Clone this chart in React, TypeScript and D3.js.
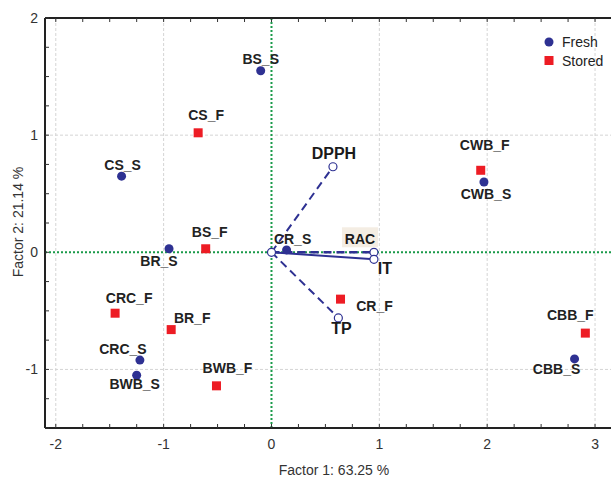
import React from "react";
import * as d3 from "d3";

// sample scores on factor 1 / factor 2
const sampleNames = [
  "BS_S", "CS_F", "CS_S", "BR_S", "BS_F", "CRC_F", "BR_F", "CRC_S",
  "BWB_S", "BWB_F", "CR_S", "CR_F", "CWB_F", "CWB_S", "CBB_F", "CBB_S",
];
const factor1 = [
  -0.1, -0.68, -1.39, -0.95, -0.61, -1.45, -0.93, -1.22,
  -1.25, -0.51, 0.14, 0.64, 1.94, 1.97, 2.91, 2.81,
];
const factor2 = [
  1.55, 1.02, 0.65, 0.03, 0.03, -0.52, -0.66, -0.92,
  -1.05, -1.14, 0.02, -0.4, 0.7, 0.6, -0.69, -0.91,
];
const groups = [
  "Fresh", "Stored", "Fresh", "Fresh", "Stored", "Stored", "Stored", "Fresh",
  "Fresh", "Stored", "Fresh", "Stored", "Stored", "Fresh", "Stored", "Fresh",
];

// variable loadings
const varNames = ["DPPH", "RAC", "IT", "TP"];
const varF1 = [0.57, 0.95, 0.95, 0.62];
const varF2 = [0.73, 0.0, -0.06, -0.56];

const xTicks = [-2, -1, 0, 1, 2, 3];
const yTicks = [-1, 0, 1, 2];
const legendItems = ["Fresh", "Stored"];

// label offsets in px (dx = centre, dy = baseline)
const labelOffset: Record<string, [number, number]> = {
  BS_S: [0, -7], CS_F: [8, -13], CS_S: [1, -6], BR_S: [-10, 17],
  BS_F: [4, -12], CRC_F: [14, -10], BR_F: [21, -7], CRC_S: [-17, -6],
  BWB_S: [-2, 14], BWB_F: [11, -13], CR_S: [6, -6], CR_F: [34, 12],
  CWB_F: [4, -20], CWB_S: [2, 17], CBB_F: [-15, -13], CBB_S: [-18, 15],
  DPPH: [1, -8], RAC: [-14, -8], IT: [11, 15], TP: [3, 16],
};

const W = 611;
const H = 478;
const BLUE = "#2e3192";
const RED = "#ed1c24";
const GREEN = "#1a9a4a";
const FONT = "'Liberation Sans', Arial, sans-serif";

export default function App() {
  const x = d3.scaleLinear().domain([-2.1, 3.25]).range([45, 622]);
  const y = d3.scaleLinear().domain([-1.5, 2]).range([428, 18]);

  const minorX = d3.range(-2, 3.26, 0.25);
  const minorY = d3.range(-1.5, 2.01, 0.25);
  const sq = 9;

  return (
    <svg
      width={W}
      height={H}
      style={{ position: "absolute", left: 0, top: 0, background: "#fff" }}
      fontFamily={FONT}
    >
      {/* grid */}
      {xTicks.filter(t => t !== 0).map(t => (
        <line key={"gx" + t} x1={x(t)} x2={x(t)} y1={y(2)} y2={y(-1.5)}
          stroke="#d4d4d4" strokeDasharray="3,2" />
      ))}
      {yTicks.filter(t => t !== 0 && t !== 2).map(t => (
        <line key={"gy" + t} x1={x(-2.1)} x2={x(3.25)} y1={y(t)} y2={y(t)}
          stroke="#d4d4d4" strokeDasharray="3,2" />
      ))}
      {/* zero lines */}
      <line x1={x(0)} x2={x(0)} y1={y(2)} y2={y(-1.5)} stroke={GREEN}
        strokeWidth={2} strokeDasharray="2,2" />
      <line x1={x(-2.1)} x2={x(3.25)} y1={y(0)} y2={y(0)} stroke={GREEN}
        strokeWidth={2} strokeDasharray="2,2" />

      {/* axes frame */}
      <line x1={x(-2.1)} x2={x(3.25)} y1={y(2)} y2={y(2)} stroke="#222" strokeWidth={2} />
      <line x1={x(-2.1)} x2={x(3.25)} y1={y(-1.5)} y2={y(-1.5)} stroke="#222" strokeWidth={2} />
      <line x1={x(-2.1)} x2={x(-2.1)} y1={y(2)} y2={y(-1.5)} stroke="#222" strokeWidth={2} />
      {minorX.map(t => (
        <g key={"tx" + t}>
          <line x1={x(t)} x2={x(t)} y1={y(-1.5)} y2={y(-1.5) - 4} stroke="#333" />
          <line x1={x(t)} x2={x(t)} y1={y(2)} y2={y(2) + 4} stroke="#333" />
        </g>
      ))}
      {minorY.map(t => (
        <line key={"ty" + t} x1={x(-2.1)} x2={x(-2.1) + 4} y1={y(t)} y2={y(t)} stroke="#333" />
      ))}
      {xTicks.map(t => (
        <text key={"lx" + t} x={x(t)} y={449} textAnchor="middle" fontSize={14} fill="#333">
          {t}
        </text>
      ))}
      {yTicks.map(t => (
        <text key={"ly" + t} x={38} y={y(t) + 5} textAnchor="end" fontSize={14} fill="#333">
          {t}
        </text>
      ))}
      <text x={334} y={475} textAnchor="middle" fontSize={14} fill="#333">
        Factor 1: 63.25 %
      </text>
      <text transform="translate(23,222) rotate(-90)" textAnchor="middle" fontSize={14} fill="#333">
        Factor 2: 21.14 %
      </text>

      {/* variable vectors */}
      {varNames.map((v, i) => (
        <line key={"vl" + v} x1={x(0)} y1={y(0)} x2={x(varF1[i])} y2={y(varF2[i])}
          stroke={BLUE} strokeWidth={v === "RAC" ? 2.4 : 2}
          strokeDasharray={v === "IT" ? undefined : "8,5"} />
      ))}
      <circle cx={x(0)} cy={y(0)} r={4} fill="#fff" stroke={BLUE} strokeWidth={1.2} />
      {varNames.map((v, i) => (
        <circle key={"vc" + v} cx={x(varF1[i])} cy={y(varF2[i])} r={4}
          fill="#fff" stroke={BLUE} strokeWidth={1.2} />
      ))}
      {varNames.map((v, i) => {
        const [dx, dy] = labelOffset[v];
        const cx = x(varF1[i]) + dx;
        const by = y(varF2[i]) + dy;
        const fs = v === "RAC" ? 14 : 16;
        return (
          <g key={"vt" + v}>
            {v === "RAC" && (
              <rect x={cx - 18} y={by - 17} width={36} height={20} fill="#f4ede3" />
            )}
            <text x={cx} y={by} textAnchor="middle" fontSize={fs} fontWeight="bold" fill="#1a1a1a">
              {v}
            </text>
          </g>
        );
      })}

      {/* sample points */}
      {sampleNames.map((s, i) =>
        groups[i] === "Fresh" ? (
          <circle key={"p" + s} cx={x(factor1[i])} cy={y(factor2[i])} r={4.5} fill={BLUE} />
        ) : (
          <rect key={"p" + s} x={x(factor1[i]) - sq / 2} y={y(factor2[i]) - sq / 2}
            width={sq} height={sq} fill={RED} />
        )
      )}
      {sampleNames.map((s, i) => {
        const [dx, dy] = labelOffset[s];
        return (
          <text key={"t" + s} x={x(factor1[i]) + dx} y={y(factor2[i]) + dy}
            textAnchor="middle" fontSize={14} fontWeight="bold" fill="#222">
            {s}
          </text>
        );
      })}

      {/* legend */}
      {legendItems.map((g, i) => (
        <g key={"lg" + g} transform={`translate(549,${42 + i * 18.5})`}>
          {g === "Fresh" ? (
            <circle r={4.5} fill={BLUE} />
          ) : (
            <rect x={-sq / 2} y={-sq / 2} width={sq} height={sq} fill={RED} />
          )}
          <text x={13} y={5} fontSize={14} fill="#222">{g}</text>
        </g>
      ))}
    </svg>
  );
}
